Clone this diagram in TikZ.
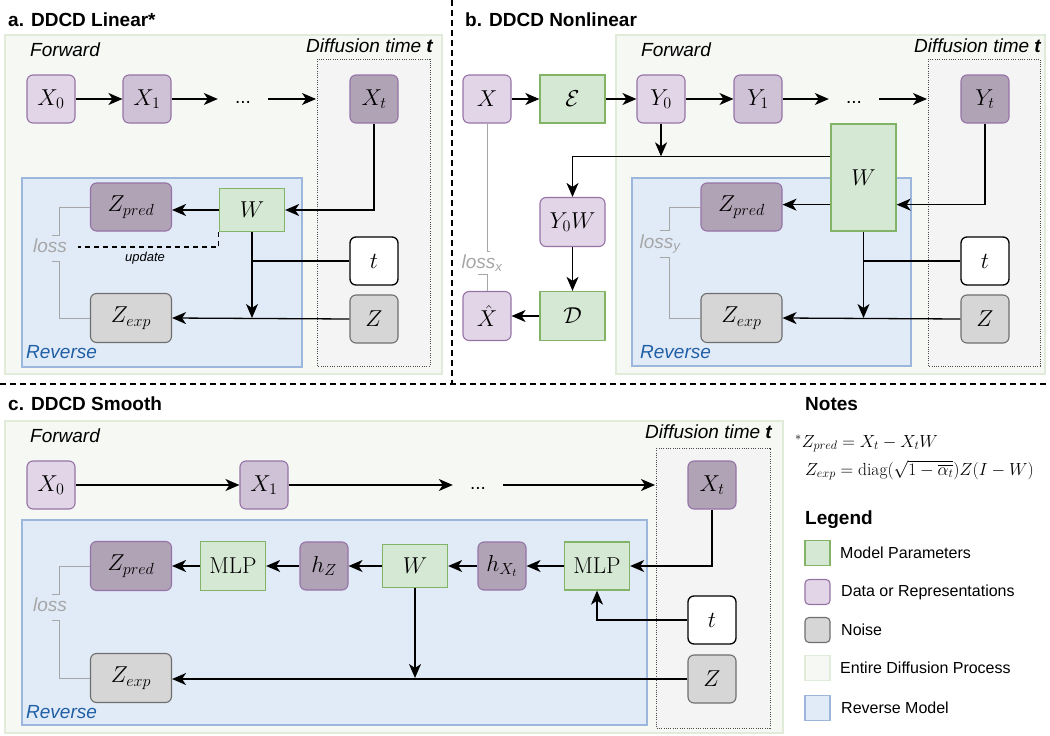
\RequirePackage{fix-cm}
\documentclass[tikz,border=0pt]{standalone}
\usepackage{amsmath}
\usepackage{fontspec}
\setsansfont{Liberation Sans}
\usetikzlibrary{arrows.meta,calc}
\definecolor{gfill}{HTML}{D5E8D4}
\definecolor{gdraw}{HTML}{82B366}
\definecolor{pfillA}{HTML}{E1D5E7}
\definecolor{pfillB}{HTML}{CFC2D6}
\definecolor{pfillC}{HTML}{B0A3B5}
\definecolor{pdraw}{HTML}{9673A6}
\definecolor{nfill}{HTML}{D6D6D6}
\definecolor{ndraw}{HTML}{6E6E6E}
\definecolor{efill}{HTML}{F6F8F4}
\definecolor{edraw}{HTML}{E1EBDA}
\definecolor{rfill}{HTML}{E1EBF8}
\definecolor{rdraw}{HTML}{9DB6DB}
\definecolor{dfill}{HTML}{F4F4F4}
\definecolor{revtext}{HTML}{1F5FA6}
\definecolor{lossgray}{HTML}{A6A6A6}
\tikzset{
  every node/.style={inner sep=0pt},
  mathfs/.style={font=\fontsize{23}{27}\selectfont},
  dat/.style={draw=pdraw, line width=1.1pt, rounded corners=6pt, mathfs},
  dA/.style={dat, fill=pfillA},
  dB/.style={dat, fill=pfillB},
  dC/.style={dat, fill=pfillC},
  prm/.style={draw=gdraw, fill=gfill, line width=1.3pt, mathfs},
  noise/.style={draw=ndraw, fill=nfill, line width=1.1pt, rounded corners=6pt, mathfs},
  tbox/.style={draw=black, fill=white, line width=1.3pt, rounded corners=6pt, mathfs},
  sq/.style={minimum width=48pt, minimum height=48pt},
  conn/.style={line width=1.3pt, -{Stealth[length=14pt,width=12pt,inset=4pt]}},
  plainln/.style={line width=1.3pt},
  lossline/.style={draw=lossgray, line width=1pt},
  envbox/.style={draw=edraw, fill=efill, line width=1.5pt},
  revbox/.style={draw=rdraw, fill=rfill, line width=1.3pt},
  dotbox/.style={draw=black!70, fill=dfill, line width=0.9pt, dash pattern=on 1pt off 1.3pt},
  lbl/.style={font=\sffamily\itshape\fontsize{19}{22}\selectfont},
  revlbl/.style={lbl, text=revtext},
  losslbl/.style={lbl, text=lossgray},
  ttl/.style={font=\sffamily\bfseries\fontsize{19}{22}\selectfont},
  leg/.style={font=\sffamily\fontsize{16}{19}\selectfont},
  dotsl/.style={font=\sffamily\fontsize{19}{22}\selectfont, minimum width=50pt},
  upd/.style={line width=1.2pt, dash pattern=on 5pt off 4pt},
  sepline/.style={line width=1.2pt, dash pattern=on 6pt off 4pt},
  sw/.style={minimum width=25pt, minimum height=25pt, line width=1.1pt}
}
\begin{document}
\begin{tikzpicture}[x=1pt,y=-1pt]
\useasboundingbox (0,0) rectangle (1050,736);

% separators
\draw[sepline] (452,0) -- (452,384);
\draw[sepline] (0,384) -- (1050,384);

% ================= panel a =================
\node[ttl, anchor=west] (ta) at (8,20) {a. DDCD Linear*};
\draw[envbox] (5,35) rectangle (442,374);
\draw[dotbox] (317,59) rectangle (430,366);
\draw[revbox] (22,178) rectangle (302,367);
\node[lbl, anchor=west] (fwa) at (30,50) {Forward};
\node[lbl, anchor=east] (dta) at (433,46) {Diffusion time \textbf{t}};
\node[revlbl, anchor=west] (rva) at (26,352) {Reverse};

\node[dA, sq] (aX0) at (51,99) {$X_0$};
\node[dB, sq] (aX1) at (147,99) {$X_1$};
\node[dotsl] (adots) at (243,102) {...};
\coordinate (aend) at (316,99);
\node[dC, sq] (aXt) at (374,99) {$X_t$};
\node[dC, minimum width=81pt, minimum height=48pt] (aZp) at (131,207) {$Z_{pred}$};
\node[prm, minimum width=65pt, minimum height=43pt] (aW) at (252,210) {$W$};
\node[noise, minimum width=81pt, minimum height=49pt] (aZe) at (131,318) {$Z_{exp}$};
\node[tbox, sq] (at) at (374,261) {$t$};
\node[noise, sq] (aZ) at (374,319) {$Z$};

\draw[conn] (aX0) -- (aX1);
\draw[conn] (aX1.east) -- (aX1.east -| adots.west);
\draw[conn] (aX1.east -| adots.east) -- (aend);
\draw[conn] (aXt.south) |- (aW.east);
\draw[conn] (aW.west) -- (aW.west -| aZp.east);
\draw[conn] (aW.south) -- (aW.south |- aZe.east);
\draw[plainln] (at.west) -- (at.west -| aW.south);
\draw[conn] (aZ.west) -- (aZe.east);

\node[losslbl] (lossa) at (50,246) {loss};
\draw[lossline] (aZp.west) -| ($(lossa.north)+(9,-3)$) -- ($(lossa.north)+(2,-3)$);
\draw[lossline] (aZe.west) -| ($(lossa.south)+(9,8)$) -- ($(lossa.south)+(2,8)$);
\coordinate (aupd) at (78,247);
\draw[upd] (aW.south west) |- (aupd);
\node[font=\sffamily\itshape\fontsize{13}{15}\selectfont] (updl) at (145,258) {update};

% ================= panel b =================
\node[ttl, anchor=west] (tb) at (465,20) {b. DDCD Nonlinear};
\draw[envbox] (616,35) rectangle (1045,374);
\draw[dotbox] (928,59) rectangle (1040,366);
\draw[revbox] (632,178) rectangle (911,366);
\node[lbl, anchor=west] (fwb) at (641,50) {Forward};
\node[lbl, anchor=east] (dtb) at (1041,46) {Diffusion time \textbf{t}};
\node[revlbl, anchor=west] (rvb) at (640,352) {Reverse};

\node[dA, sq] (bX) at (487,99) {$X$};
\node[prm, minimum width=65pt, minimum height=48pt] (bE) at (572.5,99) {$\mathcal{E}$};
\node[dA, sq] (bY0) at (661,99) {$Y_0$};
\node[dB, sq] (bY1) at (758,99) {$Y_1$};
\node[dotsl] (bdots) at (854,102) {...};
\coordinate (bend) at (927,99);
\node[dC, sq] (bYt) at (985,99) {$Y_t$};
\node[prm, minimum width=65pt, minimum height=107pt] (bW) at (863.5,177.5) {$W$};
\node[dA, minimum width=65pt, minimum height=49pt] (bY0W) at (572.5,222) {$Y_0W$};
\node[prm, minimum width=65pt, minimum height=49pt] (bD) at (572.5,316) {$\mathcal{D}$};
\node[dA, minimum width=48pt, minimum height=49pt] (bXh) at (487,316) {$\hat{X}$};
\node[dC, minimum width=81pt, minimum height=48pt] (bZp) at (741.5,207) {$Z_{pred}$};
\node[noise, minimum width=81pt, minimum height=49pt] (bZe) at (741.5,318) {$Z_{exp}$};
\node[tbox, sq] (bt) at (985,261) {$t$};
\node[noise, sq] (bZ) at (985,319) {$Z$};

\draw[conn] (bX) -- (bE);
\draw[conn] (bE) -- (bY0);
\draw[conn] (bY0) -- (bY1);
\draw[conn] (bY1.east) -- (bY1.east -| bdots.west);
\draw[conn] (bY1.east -| bdots.east) -- (bend);
\coordinate (bjoin) at ($(bW.north west)+(0,33)$);
\draw[conn] (bY0.south) -- (bY0.south |- bjoin);
\draw[conn] (bjoin) -| (bY0W.north);
\draw[conn] (bY0W) -- (bD);
\draw[conn] (bD) -- (bXh);
\coordinate (bWin) at ($(bW.south east)+(0,-27)$);
\draw[conn] (bYt.south) |- (bWin);
\draw[conn] (bW.west |- bWin) -- (bW.west |- bWin -| bZp.east);
\draw[conn] (bW.south) -- (bW.south |- bZe.east);
\draw[plainln] (bt.west) -- (bt.west -| bW.south);
\draw[conn] (bZ.west) -- (bZe.east);

\node[losslbl] (lossy) at (660,244) {loss\textsubscript{y}};
\draw[lossline] (bZp.west) -| ($(lossy.north)+(9,-4)$) -- ($(lossy.north)+(0,-4)$);
\draw[lossline] (bZe.west) -| ($(lossy.south)+(9,4)$) -- ($(lossy.south)+(0,4)$);
\node[losslbl] (lossx) at (482,263) {loss\textsubscript{x}};
\draw[lossline] (bX.south) |- ($(lossx.north)+(8,-3)$);
\draw[lossline] (bXh.north) |- ($(lossx.south)+(-4,3)$);

% ================= panel c =================
\node[ttl, anchor=west] (tc) at (8,404) {c. DDCD Smooth};
\draw[envbox] (5,421) rectangle (783,733);
\draw[dotbox] (656,448) rectangle (770,728);
\draw[revbox] (22,520) rectangle (647,725);
\node[lbl, anchor=west] (fwc) at (30,436) {Forward};
\node[lbl, anchor=east] (dtc) at (772,432) {Diffusion time \textbf{t}};
\node[revlbl, anchor=west] (rvc) at (26,712) {Reverse};

\node[dA, sq] (cX0) at (51,485) {$X_0$};
\node[dB, sq] (cX1) at (264,485) {$X_1$};
\node[dotsl] (cdots) at (478,488) {...};
\coordinate (cend) at (655,485);
\node[dC, sq] (cXt) at (712,485) {$X_t$};
\node[dC, minimum width=81pt, minimum height=49pt] (cZp) at (131,566) {$Z_{pred}$};
\node[prm, minimum width=65pt, minimum height=49pt] (cM1) at (233,566) {$\mathrm{MLP}$};
\node[dC, sq] (chZ) at (324,566) {$h_Z$};
\node[prm, minimum width=65pt, minimum height=43pt] (cW) at (415,566) {$W$};
\node[dC, sq] (chX) at (502,566) {$h_{X_t}$};
\node[prm, minimum width=65pt, minimum height=48pt] (cM2) at (597,566) {$\mathrm{MLP}$};
\node[tbox, sq] (ct) at (712,620) {$t$};
\node[noise, sq] (cZ) at (712,679) {$Z$};
\node[noise, minimum width=81pt, minimum height=49pt] (cZe) at (131,678) {$Z_{exp}$};

\draw[conn] (cX0) -- (cX1);
\draw[conn] (cX1.east) -- (cX1.east -| cdots.west);
\draw[conn] (cX1.east -| cdots.east) -- (cend);
\draw[conn] (cXt.south) |- (cM2.east);
\draw[conn] (cM2) -- (chX);
\draw[conn] (chX) -- (cW);
\draw[conn] (cW) -- (chZ);
\draw[conn] (chZ) -- (cM1);
\draw[conn] (cM1) -- (cZp);
\draw[conn] (ct.west) -| (cM2.south);
\draw[conn] (cW.south) -- (cW.south |- cZe.east);
\draw[conn] (cZ.west) -- (cZ.west -| cZe.east);

\node[losslbl] (lossc) at (50,605) {loss};
\draw[lossline] (cZp.west) -| ($(lossc.north)+(9,-3)$) -- ($(lossc.north)+(2,-3)$);
\draw[lossline] (cZe.west) -| ($(lossc.south)+(9,8)$) -- ($(lossc.south)+(2,8)$);

% ================= notes & legend =================
\node[ttl, anchor=west] (notes) at (805,404) {Notes};
\node[anchor=base west, font=\fontsize{17.5}{21}\selectfont] (f1) at (795,447) {${}^{*}Z_{pred} = X_t - X_tW$};
\node[anchor=base west, font=\fontsize{17.5}{21}\selectfont] (f2) at (805,475) {$Z_{exp} = \mathrm{diag}(\sqrt{1-\overline{\alpha_t}})Z(I-W)$};
\node[ttl, anchor=west] (legend) at (805,520) {Legend};

\node[sw, draw=gdraw, fill=gfill] (lg1) at (817.5,553) {};
\node[leg, anchor=west] (lt1) at (840,553) {Model Parameters};
\node[sw, draw=pdraw, fill=pfillA, rounded corners=4pt] (lg2) at (817.5,592) {};
\node[leg, anchor=west] (lt2) at (841,592) {Data or Representations};
\node[sw, draw=ndraw, fill=nfill, rounded corners=4pt] (lg3) at (817.5,630) {};
\node[leg, anchor=west] (lt3) at (841,630) {Noise};
\node[sw, draw=edraw, fill=efill] (lg4) at (817.5,668) {};
\node[leg, anchor=west] (lt4) at (840,668) {Entire Diffusion Process};
\node[sw, draw=rdraw, fill=rfill] (lg5) at (817.5,708) {};
\node[leg, anchor=west] (lt5) at (841,708) {Reverse Model};
\end{tikzpicture}
\end{document}
